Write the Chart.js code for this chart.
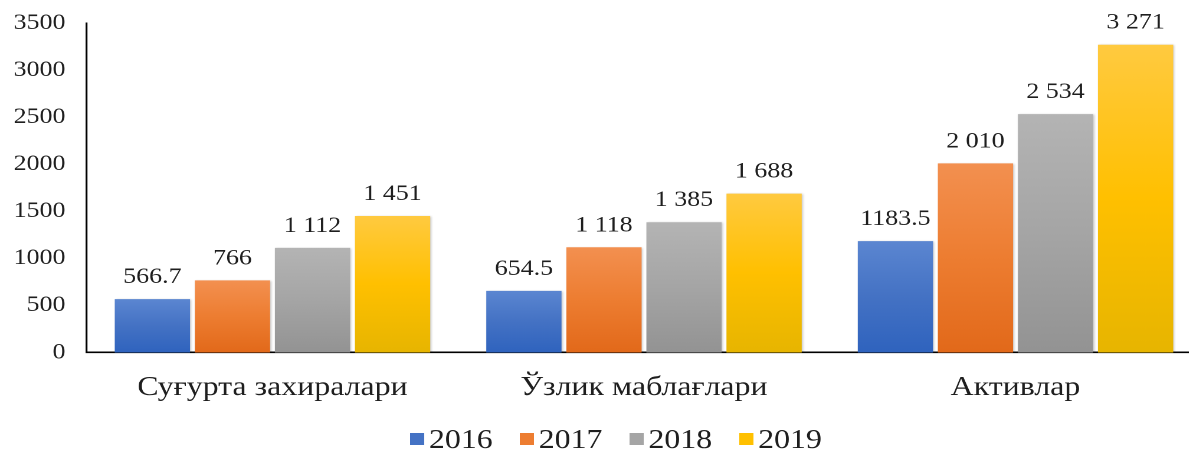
<!DOCTYPE html>
<html>
<head>
<meta charset="utf-8">
<script src="https://cdn.jsdelivr.net/npm/chart.js@4/dist/chart.umd.min.js"></script>
<style>
  html, body { margin: 0; padding: 0; background: #fff; overflow: hidden; }
  #wrap { width: 1189px; height: 452px; overflow: hidden; }
  /* the source picture is stretched sideways, so stretch the canvas the same way */
  #chart { transform: scaleX(1.18); transform-origin: 0 0; }
</style>
</head>
<body>
<div id="wrap"><canvas id="chart" width="1020" height="452"></canvas></div>
<script>
const categories = ["Суғурта захиралари", "Ўзлик маблағлари", "Активлар"]
const years = ["2016", "2017", "2018", "2019"]

const values2016 = [566.7, 654.5, 1183.5]
const values2017 = [766, 1118, 2010]
const values2018 = [1112, 1385, 2534]
const values2019 = [1451, 1688, 3271]

const yTicks = [0, 500, 1000, 1500, 2000, 2500, 3000, 3500]

// light top, base, dark bottom (Excel style gradient)
const barColors = [
  ["#5b86d1", "#4472c4", "#2f63be"],
  ["#f39050", "#ed7d31", "#e2691a"],
  ["#b4b4b4", "#a5a5a5", "#939393"],
  ["#ffca40", "#ffc000", "#e7b500"]
]

const serif = "'Liberation Serif', 'Times New Roman', serif"
const textColor = "#1e1e1e"

// 1 112 style for whole numbers, decimals left as they are
function fmt(v) {
  if (Number.isInteger(v)) return String(v).replace(/\B(?=(\d{3})+(?!\d))/g, " ")
  return String(v)
}

function barGradient(i) {
  return function (context) {
    let chart = context.chart
    let y = chart.scales.y
    if (!chart.chartArea || !y || context.raw === undefined) return barColors[i][1]
    let top = y.getPixelForValue(context.raw)
    let bottom = y.getPixelForValue(0)
    let g = chart.ctx.createLinearGradient(0, top, 0, bottom)
    g.addColorStop(0, barColors[i][0])
    g.addColorStop(0.5, barColors[i][1])
    g.addColorStop(1, barColors[i][2])
    return g
  }
}

const barShadow = {
  id: "barShadow",
  beforeDatasetsDraw(chart) {
    let ctx = chart.ctx
    ctx.save()
    ctx.shadowColor = "rgba(0,0,0,0.22)"
    ctx.shadowBlur = 4
    ctx.shadowOffsetX = 2
    ctx.shadowOffsetY = 1
  },
  afterDatasetsDraw(chart) {
    chart.ctx.restore()
  }
}

const valueLabels = {
  id: "valueLabels",
  afterDatasetsDraw(chart) {
    let ctx = chart.ctx
    ctx.save()
    ctx.font = "22px " + serif
    ctx.fillStyle = textColor
    ctx.textAlign = "center"
    ctx.textBaseline = "alphabetic"
    chart.data.datasets.forEach((ds, i) => {
      chart.getDatasetMeta(i).data.forEach((bar, j) => {
        ctx.fillText(fmt(ds.data[j]), bar.x, bar.y - 16)
      })
    })
    ctx.restore()
  }
}

// legend drawn by hand: small square, short gap, year
const bottomLegend = {
  id: "bottomLegend",
  afterDraw(chart) {
    let ctx = chart.ctx
    ctx.save()
    ctx.font = "27px " + serif
    let box = 12, gap = 4, space = 23
    let widths = chart.data.datasets.map(ds => box + gap + ctx.measureText(ds.label).width)
    let total = widths.reduce((a, b) => a + b, 0) + space * (widths.length - 1)
    let x = chart.width / 2 + 12 - total / 2
    let yMid = 439
    chart.data.datasets.forEach((ds, i) => {
      ctx.fillStyle = barColors[i][1]
      ctx.fillRect(x, yMid - box / 2, box, box)
      ctx.fillStyle = textColor
      ctx.textBaseline = "alphabetic"
      ctx.fillText(ds.label, x + box + gap, yMid + 9)
      x += widths[i] + space
    })
    ctx.restore()
  }
}

const seriesValues = [values2016, values2017, values2018, values2019]

new Chart(document.getElementById("chart"), {
  type: "bar",
  data: {
    labels: categories,
    datasets: years.map((yr, i) => ({
      label: yr,
      data: seriesValues[i],
      backgroundColor: barGradient(i),
      borderWidth: 0,
      categoryPercentage: 0.862,
      barPercentage: 0.94
    }))
  },
  options: {
    responsive: false,
    devicePixelRatio: 2,
    animation: false,
    layout: { padding: { top: 17, right: 2, bottom: 0, left: 0 } },
    scales: {
      x: {
        grid: { display: false },
        border: { display: true, color: "#000", width: 1.6 },
        ticks: { color: textColor, font: { family: serif, size: 27 }, padding: 11 },
        afterFit: function (scale) { scale.height = 99.5 }
      },
      y: {
        min: 0,
        max: 3500,
        afterBuildTicks: function (scale) { scale.ticks = yTicks.map(v => ({ value: v })) },
        grid: { display: false },
        border: { display: true, color: "#000", width: 1.6 },
        ticks: {
          color: textColor,
          font: { family: serif, size: 22 },
          padding: 10,
          callback: function (value) { return String(value) }
        },
        afterFit: function (scale) { scale.width = 73.5 }
      }
    },
    plugins: {
      legend: { display: false },
      tooltip: { enabled: false }
    }
  },
  plugins: [barShadow, valueLabels, bottomLegend]
})
</script>
</body>
</html>
